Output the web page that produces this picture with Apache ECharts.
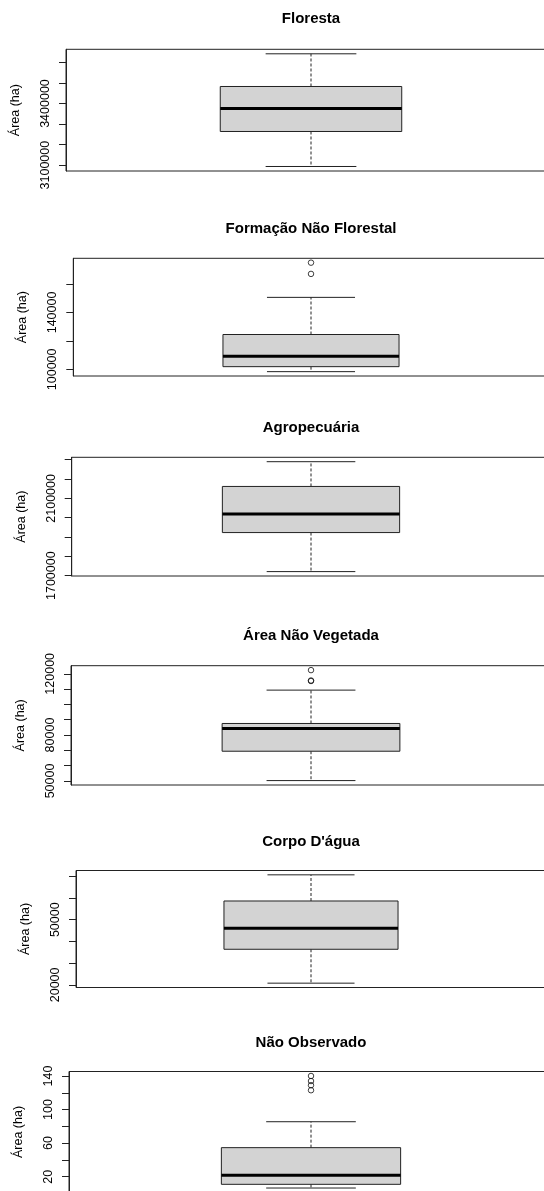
<!DOCTYPE html>
<html>
<head>
<meta charset="utf-8">
<title>Área (ha) por classe de cobertura</title>
<script src="https://cdn.jsdelivr.net/npm/echarts@6/dist/echarts.min.js"></script>
<style>
  html, body { margin: 0; padding: 0; background: #fff; }
  #chart { width: 544px; height: 1191px; }
</style>
</head>
<body>
<div id="chart"></div>
<script>
// Classes de cobertura, uma por painel
const panelTitles = ['Floresta', 'Formação Não Florestal', 'Agropecuária', 'Área Não Vegetada', "Corpo D'água", 'Não Observado'];

// Estatísticas de cada caixa: [limite inferior, Q1, mediana, Q3, limite superior] em ha
const florestaStats = [3093300, 3263800, 3375800, 3483000, 3642200];
const formacaoStats = [98400, 101900, 109200, 124500, 150600];
const agropecuariaStats = [1721000, 1923000, 2018500, 2161600, 2289700];
const naoVegetadaStats = [50260, 69430, 84280, 87550, 109340];
const corpoAguaStats = [20790, 36390, 46110, 58610, 70650];
const naoObservadoStats = [6.5, 10.9, 21.7, 54.6, 85.5];

// Valores atípicos (ha)
const florestaOutliers = [];
const formacaoOutliers = [167100, 175000];
const agropecuariaOutliers = [];
const naoVegetadaOutliers = [115300, 115600, 122400];
const corpoAguaOutliers = [];
const naoObservadoOutliers = [123, 129, 134, 140];

// Marcas e rótulos do eixo vertical
const florestaTicks = [3100000, 3200000, 3300000, 3400000, 3500000, 3600000];
const florestaLabels = [3100000, 3400000];
const formacaoTicks = [100000, 120000, 140000, 160000];
const formacaoLabels = [100000, 140000];
const agropecuariaTicks = [1700000, 1800000, 1900000, 2000000, 2100000, 2200000, 2300000];
const agropecuariaLabels = [1700000, 2100000];
const naoVegetadaTicks = [50000, 60000, 70000, 80000, 90000, 100000, 110000, 120000];
const naoVegetadaLabels = [50000, 80000, 120000];
const corpoAguaTicks = [20000, 30000, 40000, 50000, 60000, 70000];
const corpoAguaLabels = [20000, 50000];
const naoObservadoTicks = [20, 40, 60, 80, 100, 120, 140];
const naoObservadoLabels = [20, 60, 100, 140];

const yAxisName = 'Área (ha)';

const panels = [
  { stats: florestaStats, outliers: florestaOutliers, ticks: florestaTicks, labels: florestaLabels },
  { stats: formacaoStats, outliers: formacaoOutliers, ticks: formacaoTicks, labels: formacaoLabels },
  { stats: agropecuariaStats, outliers: agropecuariaOutliers, ticks: agropecuariaTicks, labels: agropecuariaLabels },
  { stats: naoVegetadaStats, outliers: naoVegetadaOutliers, ticks: naoVegetadaTicks, labels: naoVegetadaLabels },
  { stats: corpoAguaStats, outliers: corpoAguaOutliers, ticks: corpoAguaTicks, labels: corpoAguaLabels },
  { stats: naoObservadoStats, outliers: naoObservadoOutliers, ticks: naoObservadoTicks, labels: naoObservadoLabels }
];

// Posição de cada painel na página (frame esquerdo, topo, altura, centro do título)
const layout = [
  { left: 66,   top: 49.3,   height: 121.7, titleY: 19 },
  { left: 73.3, top: 258.3,  height: 117.7, titleY: 229 },
  { left: 71.7, top: 457.3,  height: 118.7, titleY: 428 },
  { left: 71,   top: 665.7,  height: 119.3, titleY: 636 },
  { left: 76,   top: 870.5,  height: 117,   titleY: 842 },
  { left: 69,   top: 1071.5, height: 121,   titleY: 1043 }
];
const centerX = 311;
const FONT = '"Liberation Sans", Arial, Helvetica, sans-serif';

function renderBox(params, api) {
  const x = api.value(0);
  const lo = api.value(1), q1 = api.value(2), med = api.value(3), q3 = api.value(4), hi = api.value(5);
  const c = (a, b) => api.coord([a, b]);
  const dash = { stroke: '#222', lineWidth: 1, lineDash: [3, 2] };
  const solid = { stroke: '#222', lineWidth: 1 };
  const line = (p1, p2, style) => ({
    type: 'line',
    shape: { x1: p1[0], y1: p1[1], x2: p2[0], y2: p2[1] },
    style: style
  });
  const tl = c(x - 0.4, q3), br = c(x + 0.4, q1);
  return {
    type: 'group',
    children: [
      line(c(x, q3), c(x, hi), dash),
      line(c(x, q1), c(x, lo), dash),
      line(c(x - 0.2, hi), c(x + 0.2, hi), solid),
      line(c(x - 0.2, lo), c(x + 0.2, lo), solid),
      {
        type: 'rect',
        shape: { x: tl[0], y: tl[1], width: br[0] - tl[0], height: br[1] - tl[1] },
        style: { fill: '#d3d3d3', stroke: '#222', lineWidth: 1 }
      },
      line(c(x - 0.4, med), c(x + 0.4, med), { stroke: '#000', lineWidth: 3 })
    ]
  };
}

const grids = [], xAxes = [], yAxes = [], series = [], graphics = [];

panels.forEach((p, i) => {
  const L = layout[i];
  const all = p.stats.concat(p.outliers);
  const dMin = Math.min.apply(null, all), dMax = Math.max.apply(null, all);
  const pad = 0.04 * (dMax - dMin);

  grids.push({
    left: L.left, top: L.top, height: L.height, width: 2 * (centerX - L.left),
    outerBoundsMode: 'none', containLabel: false,
    show: true, borderColor: '#222', borderWidth: 1, backgroundColor: 'transparent'
  });
  xAxes.push({
    gridIndex: i, type: 'value', min: -0.08, max: 2.08,
    show: false
  });
  yAxes.push({
    gridIndex: i, type: 'value',
    min: dMin - pad, max: dMax + pad,
    name: yAxisName, nameLocation: 'middle', nameGap: 44, nameRotate: 90,
    nameTextStyle: { fontSize: 12.5, color: '#000', fontFamily: FONT },
    axisLine: { show: true, onZero: false, lineStyle: { color: '#222', width: 1 } },
    axisTick: { show: true, length: 7, lineStyle: { color: '#222', width: 1 }, customValues: p.ticks },
    axisLabel: {
      show: true, rotate: 90, margin: 14, fontSize: 12.5, color: '#000', fontFamily: FONT,
      customValues: p.labels, hideOverlap: false, formatter: v => String(v)
    },
    splitLine: { show: false }
  });
  series.push({
    type: 'custom', xAxisIndex: i, yAxisIndex: i,
    renderItem: renderBox,
    encode: { x: 0, y: [1, 2, 3, 4, 5] },
    data: [[1].concat(p.stats)],
    silent: true, animation: false
  });
  series.push({
    type: 'scatter', xAxisIndex: i, yAxisIndex: i,
    symbol: 'circle', symbolSize: 5.5,
    itemStyle: { color: 'rgba(0,0,0,0)', borderColor: '#111', borderWidth: 1 },
    data: p.outliers.map(v => [1, v]),
    silent: true, animation: false
  });
  graphics.push({
    type: 'text', x: centerX, y: L.titleY,
    style: {
      text: panelTitles[i], fill: '#000',
      font: 'bold 15px ' + FONT, align: 'center', verticalAlign: 'middle'
    }
  });
});

const chart = echarts.init(document.getElementById('chart'), null, { renderer: 'canvas' });
chart.setOption({
  animation: false,
  backgroundColor: '#fff',
  grid: grids,
  xAxis: xAxes,
  yAxis: yAxes,
  series: series,
  graphic: graphics
});
</script>
</body>
</html>
